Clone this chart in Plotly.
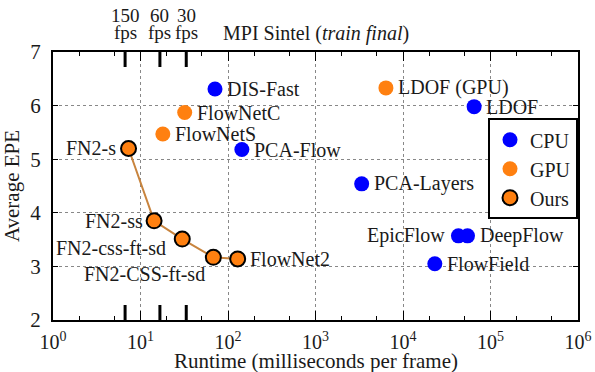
import math
import plotly.graph_objects as go

# ---- data ----
cpu_names = ["DIS-Fast", "PCA-Flow", "LDOF", "PCA-Layers", "EpicFlow", "DeepFlow", "FlowField"]
cpu_runtime = [71, 144, 65000, 3370, 43000, 54600, 23100]
cpu_epe = [6.31, 5.18, 5.98, 4.54, 3.57, 3.57, 3.05]

gpu_names = ["FlowNetC", "FlowNetS", "LDOF (GPU)"]
gpu_runtime = [32, 18, 6380]
gpu_epe = [5.87, 5.47, 6.33]

ours_names = ["FN2-s", "FN2-ss", "FN2-css-ft-sd", "FN2-CSS-ft-sd", "FlowNet2"]
ours_runtime = [7.3, 14.3, 30, 68, 129]
ours_epe = [5.20, 3.85, 3.51, 3.17, 3.14]

fps_values = [150, 60, 30]
x_tick_exps = [0, 1, 2, 3, 4, 5, 6]
y_ticks = [2, 3, 4, 5, 6, 7]

# label placement (style only)
cpu_pos = ["r", "r", "r", "r", "l", "r", "r"]
gpu_pos = ["r", "r", "r"]
ours_pos = ["l", "l2", "bl1", "bl2", "r"]

BLUE = "#0000ff"
ORANGE = "#ff8010"
LINE = "#c8843e"
FONT = "Times New Roman, Liberation Serif, serif"
TXT = "#1a1a1a"

fig = go.Figure()

fig.add_trace(go.Scatter(x=ours_runtime, y=ours_epe, mode="lines",
                         line=dict(color=LINE, width=2), showlegend=False, hoverinfo="skip"))
fig.add_trace(go.Scatter(x=cpu_runtime, y=cpu_epe, mode="markers", name="CPU",
                         marker=dict(color=BLUE, size=15)))
fig.add_trace(go.Scatter(x=gpu_runtime, y=gpu_epe, mode="markers", name="GPU",
                         marker=dict(color=ORANGE, size=15)))
fig.add_trace(go.Scatter(x=ours_runtime, y=ours_epe, mode="markers", name="Ours",
                         marker=dict(color=ORANGE, size=15, line=dict(color="black", width=2))))

def add_labels(names, xs, ys, pos):
    for n, x, y, p in zip(names, xs, ys, pos):
        kw = dict(x=math.log10(x), y=y, xref="x", yref="y", text=n, showarrow=False,
                  font=dict(family=FONT, size=20, color=TXT))
        if p == "r":
            kw.update(xanchor="left", xshift=10)
        elif p == "l":
            kw.update(xanchor="right", xshift=-11)
        elif p == "l2":
            kw.update(xanchor="right", xshift=-9)
        elif p == "bl1":
            kw.update(xanchor="right", xshift=-14, yshift=-9)
        elif p == "bl2":
            kw.update(xanchor="right", xshift=-6, yshift=-17)
        fig.add_annotation(**kw)

add_labels(cpu_names, cpu_runtime, cpu_epe, cpu_pos)
add_labels(gpu_names, gpu_runtime, gpu_epe, gpu_pos)
add_labels(ours_names, ours_runtime, ours_epe, ours_pos)

# fps markers
for f in fps_values:
    ms = 1000.0 / f
    fig.add_shape(type="line", xref="x", yref="y", x0=ms, x1=ms,
                  ysizemode="pixel", yanchor=7, y0=-15, y1=6, line=dict(color="black", width=3))
    fig.add_shape(type="line", xref="x", yref="y", x0=ms, x1=ms,
                  ysizemode="pixel", yanchor=2, y0=-5, y1=15, line=dict(color="black", width=3))
    fig.add_annotation(x=math.log10(ms), y=7, xref="x", yref="y", yshift=37, yanchor="middle",
                       text=f"{f}", showarrow=False, borderpad=0,
                       font=dict(family=FONT, size=19, color=TXT))
    fig.add_annotation(x=math.log10(ms), y=7, xref="x", yref="y", yshift=20, yanchor="middle",
                       text="fps", showarrow=False, borderpad=0,
                       font=dict(family=FONT, size=19, color=TXT))

fig.add_annotation(x=0.5, y=1, xref="paper", yref="paper", yshift=19, yanchor="middle",
                   text="MPI Sintel (<i>train final</i>)",
                   showarrow=False, font=dict(family=FONT, size=20, color=TXT))

fig.add_annotation(x=0.5, y=0, xref="paper", yref="paper", yshift=-41, yanchor="middle",
                   text="Runtime (milliseconds per frame)",
                   showarrow=False, font=dict(family=FONT, size=21, color=TXT))

fig.update_layout(
    width=595, height=372,
    margin=dict(l=53, r=17, t=52, b=52),
    paper_bgcolor="white", plot_bgcolor="white",
    font=dict(family=FONT, size=20, color=TXT),
    showlegend=True,
    legend=dict(x=1, y=0.753, xanchor="right", yanchor="top", bordercolor="black", borderwidth=2,
                bgcolor="white", font=dict(family=FONT, size=20, color=TXT), itemwidth=30,
                tracegroupgap=0),
    xaxis=dict(type="log", range=[0, 6], automargin=False,
               tickvals=[10 ** e for e in x_tick_exps],
               ticktext=[f"10<sup>{e}</sup>" for e in x_tick_exps],
               tickfont=dict(family=FONT, size=20, color=TXT),
               ticklabelstandoff=3,
               ticks="inside", ticklen=9, tickwidth=1, tickcolor="black",
               showline=True, linecolor="black", linewidth=2, mirror="ticks",
               showgrid=True, gridcolor="#888", griddash="dot", gridwidth=1,
               minor=dict(ticks="inside", ticklen=4, tickcolor="black", showgrid=False),
               zeroline=False),
    yaxis=dict(range=[2, 7], tickvals=y_ticks, automargin=False,
               tickfont=dict(family=FONT, size=21, color=TXT),
               ticks="inside", ticklen=5, tickcolor="black",
               showline=True, linecolor="black", linewidth=2, mirror="ticks",
               showgrid=True, gridcolor="#888", griddash="dot", gridwidth=1,
               ticklabelstandoff=6,
               title=dict(text="Average EPE", standoff=6,
                          font=dict(family=FONT, size=21, color=TXT)),
               zeroline=False),
)

fig.write_html("out.html", post_script="document.body.style.margin='0';",
               config={"displayModeBar": False})
